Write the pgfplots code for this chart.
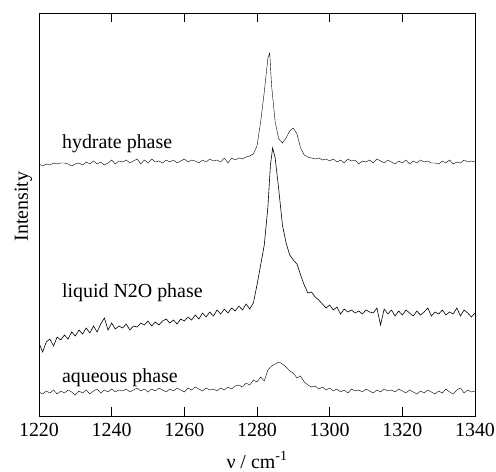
\documentclass[border=0pt]{standalone}
\usepackage{fontspec}
\setmainfont{Liberation Serif}
\usepackage{pgfplots}
\pgfplotsset{compat=1.18}
\usetikzlibrary{calc}

\pgfplotstableread{
x Y
1220 252
1221 250
1222 252
1223 251
1224 253
1225 252
1226 253
1227 253
1228 252
1229 250
1230 252
1231 253
1232 251
1233 254
1234 252
1235 255
1236 252
1237 254
1238 251
1239 253
1240 256
1241 252
1242 255
1243 254
1244 256
1245 253
1246 255
1247 257
1248 252
1249 256
1250 253
1251 257
1252 254
1253 255
1254 253
1255 256
1256 254
1257 256
1258 253
1259 255
1260 257
1261 254
1262 256
1263 255
1264 253
1265 256
1266 254
1267 257
1268 255
1269 256
1270 254
1271 258
1272 253
1273 258
1274 256
1275 258
1276 257
1277 259
1278 260
1279 262
1280 270
1281 294
1282 324
1283 358
1283.5 363
1284 331
1285 294
1286 277
1287 273
1288 278
1289 285
1290 288
1291 282
1292 268
1293 261
1294 259
1295 258
1296 257
1297 258
1298 256
1299 257
1300 255
1301 257
1302 254
1303 256
1304 253
1305 257
1306 255
1307 256
1308 252
1309 255
1310 254
1311 256
1312 253
1313 257
1314 255
1315 253
1316 256
1317 254
1318 252
1319 255
1320 253
1321 256
1322 252
1323 255
1324 253
1325 256
1326 254
1327 255
1328 253
1329 253
1330 252
1331 255
1332 253
1333 256
1334 252
1335 254
1336 253
1337 256
1338 254
1339 255
1340 254
}\hydrate

\pgfplotstableread{
x Y
1220 73
1221 64
1222 74
1223 77
1224 70
1225 79
1226 76
1227 81
1228 77
1229 84
1230 80
1231 86
1232 82
1233 88
1234 83
1235 90
1236 84
1237 92
1238 98
1239 86
1240 93
1241 87
1242 90
1243 88
1244 92
1245 86
1246 90
1247 89
1248 93
1249 91
1250 95
1251 90
1252 94
1253 91
1254 95
1255 97
1256 93
1257 96
1258 92
1259 97
1260 95
1261 99
1262 96
1263 101
1264 97
1265 103
1266 99
1267 104
1268 100
1269 106
1270 102
1271 107
1272 103
1273 108
1274 105
1275 110
1276 106
1277 112
1278 107
1279 113
1280 131
1281 151
1282 171
1283 209
1283.7 251
1284.3 268
1285 258
1286 226
1287 191
1288 173
1289 161
1290 156
1291 152
1292 141
1293 131
1294 123
1295 124
1296 119
1297 116
1298 112
1299 108
1300 111
1301 106
1302 109
1303 102
1304 107
1305 104
1306 106
1307 103
1308 105
1309 102
1310 106
1311 104
1312 103
1313 108
1314 91
1315 107
1316 102
1317 106
1318 100
1319 105
1320 101
1321 106
1322 103
1323 100
1324 105
1325 101
1326 104
1327 108
1328 100
1329 104
1330 102
1331 106
1332 101
1333 104
1334 102
1335 108
1336 100
1337 106
1338 103
1339 99
1340 103
}\liquid

\pgfplotstableread{
x Y
1220 24
1221 22
1222 25
1223 23
1224 26
1225 22
1226 25
1227 23
1228 26
1229 24
1230 21
1231 25
1232 23
1233 26
1234 22
1235 25
1236 27
1237 23
1238 26
1239 24
1240 27
1241 24
1242 26
1243 25
1244 27
1245 24
1246 26
1247 28
1248 25
1249 27
1250 24
1251 27
1252 25
1253 28
1254 26
1255 24
1256 27
1257 25
1258 28
1259 26
1260 24
1261 28
1262 26
1263 29
1264 27
1265 25
1266 28
1267 26
1268 27
1269 25
1270 28
1271 26
1272 29
1273 27
1274 30
1275 31
1276 29
1277 33
1278 31
1279 36
1280 34
1281 39
1282 35
1283 46
1284 50
1285 52
1286 54
1287 52
1288 49
1289 45
1290 43
1291 38
1292 40
1293 34
1294 31
1295 29
1296 30
1297 27
1298 29
1299 26
1300 28
1301 25
1302 27
1303 24
1304 26
1305 23
1306 27
1307 25
1308 26
1309 24
1310 27
1311 25
1312 23
1313 26
1314 24
1315 27
1316 25
1317 26
1318 24
1319 27
1320 25
1321 23
1322 26
1323 24
1324 22
1325 25
1326 23
1327 26
1328 24
1329 22
1330 25
1331 23
1332 27
1333 24
1334 22
1335 26
1336 28
1337 23
1338 26
1339 24
1340 25
}\aqueous

\begin{document}
\begin{tikzpicture}
\begin{axis}[
    scale only axis,
    width=436bp, height=403bp,
    xmin=1220, xmax=1340,
    ymin=0, ymax=403,
    xtick={1220,1240,...,1340},
    ytick=\empty,
    tick align=inside,
    major tick length=9bp,
    axis line style={black, line width=0.9pt},
    tick style={black, line width=0.8pt},
    /pgf/number format/assume math mode=true,
    /pgf/number format/1000 sep={},
    ticklabel style={font=\fontsize{20}{24}\selectfont},
    xticklabel style={yshift=-4bp},
    label style={font=\fontsize{20}{24}\selectfont},
    xlabel={ν / cm\textsuperscript{-1}},
    xlabel style={at={(axis description cs:0.5,0)}, anchor=base, yshift=-52bp},
    ylabel={Intensity},
    ylabel style={at={(axis description cs:0,0.52)}, anchor=base, yshift=11bp, inner sep=0pt},
    cycle list={{black, line width=0.6pt, sharp plot, no marks}},
]
\addplot table[x=x, y=Y] {\hydrate};
\addplot table[x=x, y=Y] {\liquid};
\addplot table[x=x, y=Y] {\aqueous};
\node[anchor=base west, inner sep=0pt, font=\fontsize{20}{24}\selectfont] at (axis cs:1226.3,267) {hydrate phase};
\node[anchor=base west, inner sep=0pt, font=\fontsize{20}{24}\selectfont] at (axis cs:1226.3,118) {liquid N2O phase};
\node[anchor=base west, inner sep=0pt, font=\fontsize{20}{24}\selectfont] at (axis cs:1226.3,34) {aqueous phase};
\end{axis}
\pgfresetboundingbox
\path[use as bounding box] ($(current axis.south west)+(-39bp,-56bp)$) rectangle ($(current axis.north east)+(21bp,13bp)$);
\end{tikzpicture}
\end{document}
